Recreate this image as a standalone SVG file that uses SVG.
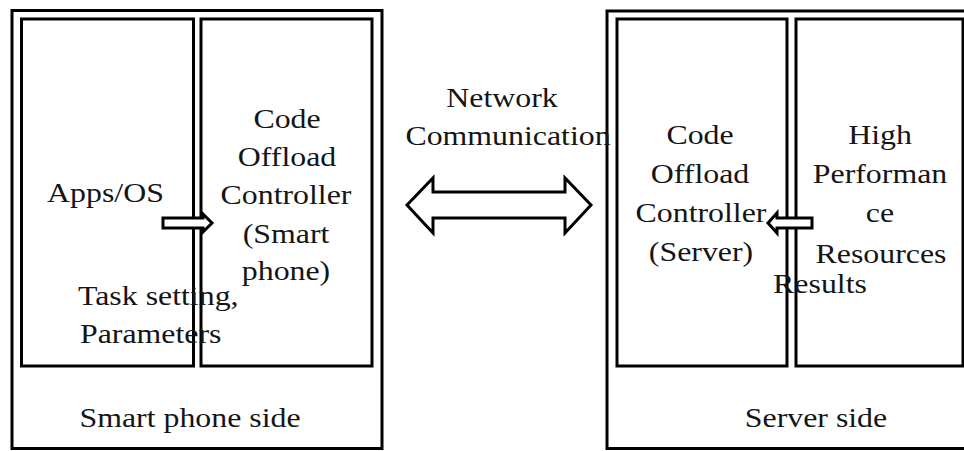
<svg xmlns="http://www.w3.org/2000/svg" width="964" height="451" viewBox="0 0 964 451">
<style>
.box{fill:none;stroke:#000;stroke-width:3}
.t{font-family:"Liberation Serif","Times New Roman",serif;font-size:27px;fill:#151515;text-anchor:middle}
.s{text-anchor:start}
.arr{fill:#fff;stroke:#000;stroke-width:3;stroke-linejoin:miter}
</style>
<rect width="964" height="451" fill="#fff"/>
<g id="phone-side">
<rect class="box" x="12" y="10.5" width="370" height="438"/>
<text class="t" transform="translate(190,427) scale(1.18,1)">Smart phone side</text>
</g>
<g id="apps-os">
<rect class="box" x="21.5" y="19" width="172" height="347"/>
<text class="t" transform="translate(105.5,202) scale(1.18,1)">Apps/OS</text>
</g>
<g id="phone-controller">
<rect class="box" x="201" y="19" width="171" height="347"/>
<text class="t" transform="translate(287,128) scale(1.18,1)">Code</text>
<text class="t" transform="translate(287,166) scale(1.18,1)">Offload</text>
<text class="t" transform="translate(286,204) scale(1.18,1)">Controller</text>
<text class="t" transform="translate(286,243) scale(1.18,1)">(Smart</text>
<text class="t" transform="translate(286,280) scale(1.18,1)">phone)</text>
</g>
<g id="server-side">
<rect class="box" x="607" y="11" width="400" height="437.5"/>
<text class="t" transform="translate(816,427) scale(1.18,1)">Server side</text>
</g>
<g id="server-controller">
<rect class="box" x="617" y="19" width="170" height="347"/>
<text class="t" transform="translate(700,144) scale(1.18,1)">Code</text>
<text class="t" transform="translate(700,183) scale(1.18,1)">Offload</text>
<text class="t" transform="translate(701,222) scale(1.18,1)">Controller</text>
<text class="t" transform="translate(701,261) scale(1.18,1)">(Server)</text>
</g>
<g id="hp-resources">
<rect class="box" x="796" y="19" width="167" height="347"/>
<text class="t" transform="translate(880,144) scale(1.18,1)">High</text>
<text class="t" transform="translate(880,183) scale(1.18,1)">Performan</text>
<text class="t" transform="translate(880,222) scale(1.18,1)">ce</text>
<text class="t" transform="translate(881,263) scale(1.18,1)">Resources</text>
</g>
<g id="connectors">
<path class="arr" d="M407,205 L433,178 L433,192 L565,192 L565,178 L591,205 L565,233 L565,218 L433,218 L433,233 Z"/>
<text class="t" transform="translate(502,107) scale(1.18,1)">Network</text>
<text class="t" transform="translate(508,145) scale(1.18,1)">Communication</text>
<path class="arr" d="M163,218 L203,218 L203,214 L212,223 L203,232 L203,228 L163,228 Z"/>
<text class="t s" transform="translate(78,305) scale(1.18,1)">Task setting,</text>
<text class="t s" transform="translate(80,343) scale(1.18,1)">Parameters</text>
<path class="arr" d="M812,218 L777,218 L777,213 L768,223 L777,233 L777,228 L812,228 Z"/>
<text class="t" transform="translate(820,293) scale(1.18,1)">Results</text>
</g>
</svg>
